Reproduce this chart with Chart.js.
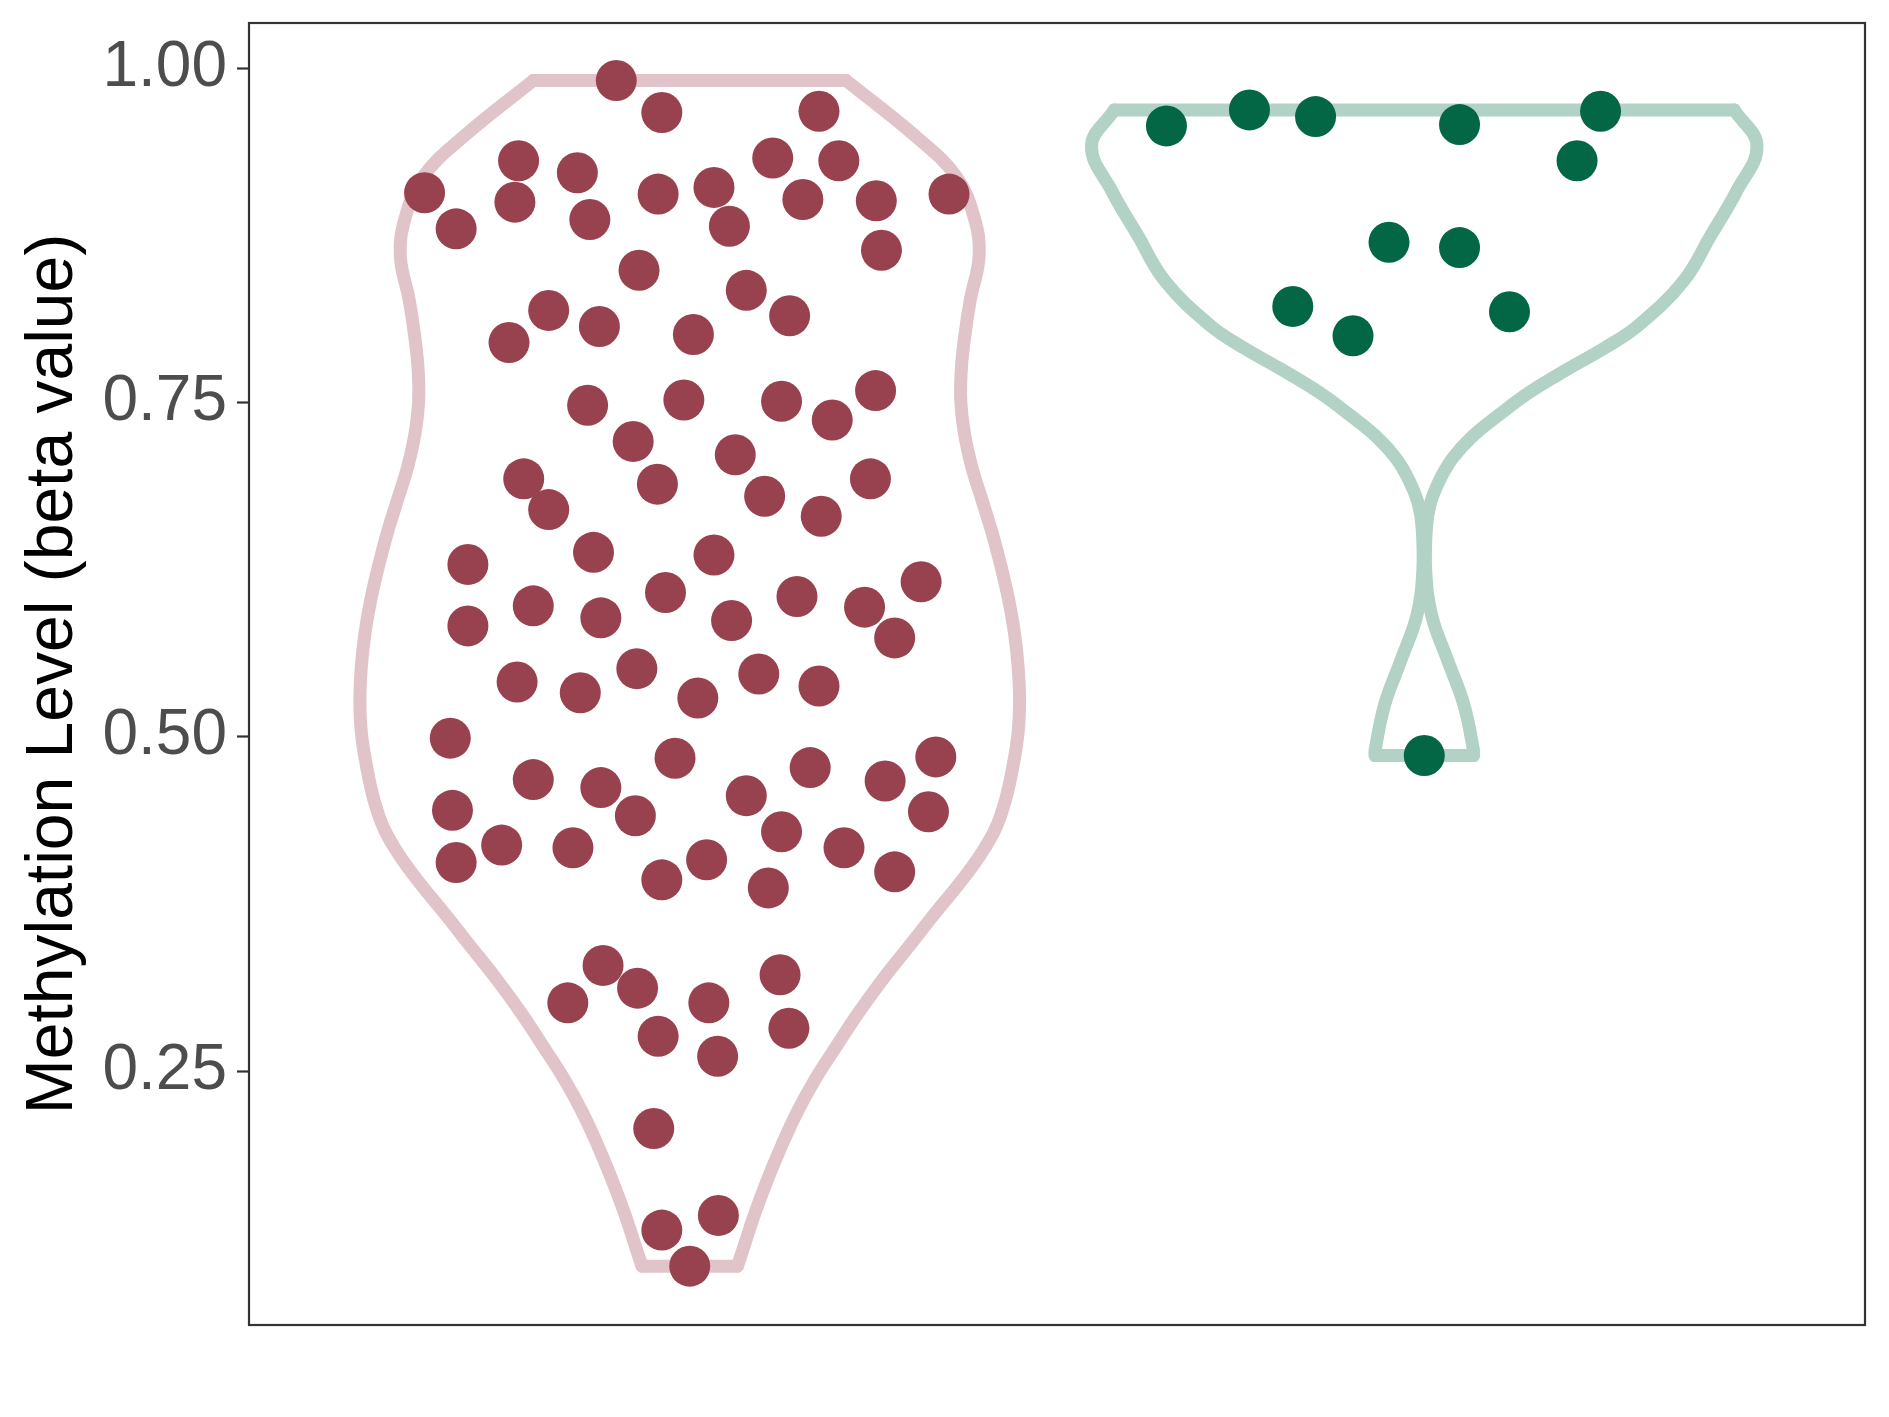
<!DOCTYPE html>
<html>
<head>
<meta charset="utf-8">
<script src="https://cdn.jsdelivr.net/npm/chart.js@4"></script>
<style>
    html, body { margin: 0; padding: 0; background: #fff; }
    canvas { display: block; }
</style>
</head>
<body>
<canvas id="chart" width="1889" height="1417"></canvas>
<script>
/**
 * 数据
 */
var groupCenters = [1, 2];
var yTicks = [0.25, 0.50, 0.75, 1.00];

// group 1 (red): jitter offset from center, methylation value
var redJitter = [-0.100, -0.038, 0.176, -0.361, -0.233, -0.153, 0.113, 0.203, -0.318, -0.238,
    -0.136, -0.043, 0.033, 0.054, 0.154, 0.254, 0.353, 0.261, -0.069, 0.077,
    -0.192, -0.123, 0.005, 0.136, -0.246, -0.139, -0.008, 0.125, 0.194, 0.253,
    -0.077, 0.062, -0.226, -0.192, -0.044, 0.102, 0.179, 0.246, -0.302, -0.131,
    0.033, 0.315, -0.302, -0.213, -0.121, -0.033, 0.057, 0.146, 0.238, 0.279,
    -0.235, -0.149, -0.072, 0.011, 0.094, 0.176, -0.326, -0.213, -0.121, -0.020,
    0.077, 0.164, 0.266, 0.335, -0.323, -0.256, -0.159, -0.074, -0.038, 0.023,
    0.125, 0.210, 0.325, -0.318, 0.107, 0.279, -0.118, -0.166, -0.071, 0.026,
    0.123, -0.043, 0.038, 0.135, -0.049, -0.038, 0.039, 0.000];
var redValues = [0.991, 0.967, 0.968, 0.907, 0.931, 0.922, 0.933, 0.931, 0.880, 0.900,
    0.887, 0.906, 0.911, 0.882, 0.902, 0.901, 0.906, 0.864, 0.849, 0.834,
    0.819, 0.807, 0.801, 0.815, 0.795, 0.748, 0.752, 0.751, 0.737, 0.759,
    0.721, 0.711, 0.693, 0.670, 0.689, 0.680, 0.665, 0.693, 0.629, 0.638,
    0.636, 0.616, 0.583, 0.598, 0.589, 0.608, 0.587, 0.605, 0.597, 0.574,
    0.541, 0.533, 0.551, 0.529, 0.547, 0.538, 0.499, 0.468, 0.462, 0.484,
    0.456, 0.477, 0.467, 0.485, 0.445, 0.419, 0.417, 0.441, 0.393, 0.408,
    0.429, 0.417, 0.444, 0.406, 0.387, 0.399, 0.329, 0.301, 0.312, 0.301,
    0.322, 0.276, 0.261, 0.282, 0.207, 0.131, 0.142, 0.104];

// group 2 (green)
var greenJitter = [-0.351, -0.238, -0.148, 0.048, 0.240, 0.208, -0.048, 0.048, -0.179, -0.097, 0.116, 0.000];
var greenValues = [0.957, 0.969, 0.964, 0.958, 0.968, 0.931, 0.870, 0.866, 0.822, 0.800, 0.818, 0.486];

// violin outlines: levels (top to bottom) and half widths
var redLevels = [0.991, 0.949, 0.919, 0.889, 0.860, 0.827, 0.802, 0.777, 0.752, 0.727,
    0.702, 0.677, 0.652, 0.627, 0.603, 0.578, 0.553, 0.528, 0.503, 0.478,
    0.453, 0.431, 0.412, 0.393, 0.368, 0.343, 0.318, 0.293, 0.268, 0.244,
    0.219, 0.194, 0.169, 0.144, 0.119, 0.104];
var redWidths = [0.213, 0.308, 0.363, 0.387, 0.394, 0.382, 0.375, 0.370, 0.369, 0.374,
    0.384, 0.398, 0.412, 0.424, 0.434, 0.442, 0.447, 0.449, 0.447, 0.440,
    0.430, 0.416, 0.396, 0.371, 0.334, 0.298, 0.262, 0.229, 0.199, 0.171,
    0.146, 0.125, 0.106, 0.089, 0.074, 0.065];

var greenLevels = [0.969, 0.942, 0.908, 0.875, 0.841, 0.808, 0.791, 0.775, 0.758, 0.741,
    0.724, 0.708, 0.691, 0.674, 0.657, 0.624, 0.591, 0.557, 0.524, 0.490, 0.486];
var greenWidths = [0.422, 0.453, 0.425, 0.390, 0.353, 0.292, 0.246, 0.195, 0.144, 0.102,
    0.064, 0.038, 0.020, 0.008, 0.003, 0.002, 0.010, 0.032, 0.054, 0.067, 0.067];

/**
 * 工具
 */
function dots(center, jitter, values) {
    return values.map(function (v, i) {
        return { x: center + jitter[i], y: v };
    });
}

// one side of a violin, top to bottom (s = -1 left, 1 right)
function side(center, levels, widths, s) {
    return levels.map(function (v, i) {
        return { x: center + s * widths[i], y: v };
    });
}

// flat cap at top or bottom
function cap(center, levels, widths, i) {
    return [
        { x: center - widths[i], y: levels[i] },
        { x: center + widths[i], y: levels[i] }
    ];
}

function violin(center, levels, widths, color) {
    var last = levels.length - 1;
    var parts = [
        { pts: side(center, levels, widths, -1), tension: 0.4 },
        { pts: side(center, levels, widths, 1), tension: 0.4 },
        { pts: cap(center, levels, widths, 0), tension: 0 },
        { pts: cap(center, levels, widths, last), tension: 0 }
    ];
    return parts.map(function (p) {
        return {
            data: p.pts,
            showLine: true,
            fill: false,
            borderColor: color,
            borderWidth: 13,
            borderJoinStyle: 'round',
            borderCapStyle: 'round',
            tension: p.tension,
            pointRadius: 0,
            order: 1
        };
    });
}

//面板边框
var panelBorder = {
    id: 'panelBorder',
    afterDraw: function (chart) {
        var a = chart.chartArea, ctx = chart.ctx;
        ctx.save();
        ctx.strokeStyle = '#333333';
        ctx.lineWidth = 2.2;
        ctx.strokeRect(a.left, a.top, a.right - a.left, a.bottom - a.top);
        ctx.restore();
    }
};

/**
 * 图表
 */
var datasets = [{
    data: dots(groupCenters[0], redJitter, redValues),
    backgroundColor: '#99424F',
    borderWidth: 0,
    pointRadius: 20.5,
    order: 0
}, {
    data: dots(groupCenters[1], greenJitter, greenValues),
    backgroundColor: '#036745',
    borderWidth: 0,
    pointRadius: 20.5,
    order: 0
}];
datasets = datasets
    .concat(violin(groupCenters[0], redLevels, redWidths, '#E0C4CA'))
    .concat(violin(groupCenters[1], greenLevels, greenWidths, '#B3D2C6'));

var ctx = document.getElementById('chart').getContext('2d');

window.myChart = new Chart(ctx, {
    type: 'scatter',
    data: { datasets: datasets },
    options: {
        responsive: false,
        animation: false,
        devicePixelRatio: 1,
        layout: {
            padding: { left: 0, top: 23, right: 24, bottom: 92 }
        },
        plugins: {
            legend: { display: false },
            tooltip: { enabled: false }
        },
        scales: {
            x: {
                type: 'linear',
                min: 0.4,
                max: 2.6,
                display: false
            },
            y: {
                type: 'linear',
                min: 0.060,
                max: 1.034,
                afterBuildTicks: function (scale) {
                    scale.ticks = yTicks.map(function (v) { return { value: v }; });
                },
                afterFit: function (scale) {
                    scale.width = 249;
                    scale.paddingTop = 0;
                    scale.paddingBottom = 0;
                },
                ticks: {
                    callback: function (v) { return v.toFixed(2); },
                    color: '#4D4D4D',
                    font: { family: 'Liberation Sans', size: 64 },
                    padding: 10
                },
                grid: {
                    drawOnChartArea: false,
                    tickLength: 12,
                    tickWidth: 2.2,
                    tickColor: '#333333'
                },
                border: { display: false },
                title: {
                    display: true,
                    text: 'Methylation Level (beta value)',
                    color: '#000000',
                    font: { family: 'Liberation Sans', size: 66 },
                    padding: { top: 14, bottom: 0 }
                }
            }
        }
    },
    plugins: [panelBorder]
});
</script>
</body>
</html>
